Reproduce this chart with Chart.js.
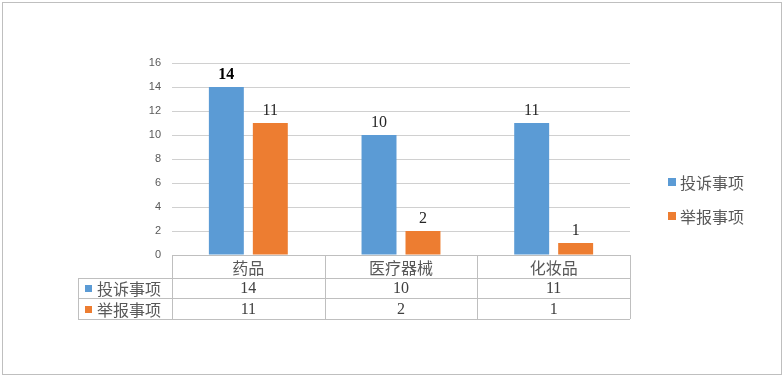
<!DOCTYPE html>
<html lang="zh">
  <head>
    <meta charset="UTF-8" />
    <title>投诉举报事项</title>
    <script src="https://cdn.jsdelivr.net/npm/chart.js"></script>
    <style>
      body {
        margin: 0;
        background-color: #ffffff;
      }
      #frame {
        position: absolute;
        left: 2px;
        top: 2px;
        width: 778px;
        height: 371px;
        border: 1px solid #bfbfbf;
      }
      #wrap {
        position: absolute;
        left: 0;
        top: 0;
        width: 782px;
        height: 380px;
      }
    </style>
  </head>
  <body>
    <div id="frame"></div>
    <div id="wrap"><canvas id="barChart"></canvas></div>
    <script>
      const categories = ["药品", "医疗器械", "化妆品"];
      const complaints = [14, 10, 11];
      const reports = [11, 2, 1];
      const seriesNames = ["投诉事项", "举报事项"];
      const yTicks = [0, 2, 4, 6, 8, 10, 12, 14, 16];

      const cjkFont = "'Noto Sans CJK SC', 'Noto Sans', sans-serif";
      const numFont = "'Liberation Serif', 'DejaVu Serif', serif";
      const gridGray = "#bfbfbf";

      // value labels above bars
      const valueLabels = {
        id: "valueLabels",
        afterDatasetsDraw(chart) {
          const ctx = chart.ctx;
          ctx.save();
          ctx.textAlign = "center";
          ctx.textBaseline = "bottom";
          chart.data.datasets.forEach((ds, di) => {
            const meta = chart.getDatasetMeta(di);
            meta.data.forEach((bar, i) => {
              const bold = di === 0 && i === 0;
              ctx.font = (bold ? "bold " : "") + "16px " + numFont;
              ctx.fillStyle = bold ? "#000000" : "#262626";
              ctx.fillText(ds.data[i], bar.x, bar.y - 4);
            });
          });
          ctx.restore();
        },
      };

      // data table under the plot and legend at the right
      const dataTable = {
        id: "dataTable",
        afterDraw(chart) {
          const ctx = chart.ctx;
          const x = chart.scales.x;
          const area = chart.chartArea;
          const step = (area.right - area.left) / categories.length;
          const top = area.bottom;
          const rowH = [23, 20, 21];
          const rows = [top, top + rowH[0], top + rowH[0] + rowH[1], top + rowH[0] + rowH[1] + rowH[2]];
          const tableLeft = 78;

          ctx.save();
          ctx.strokeStyle = gridGray;
          ctx.lineWidth = 1;
          ctx.beginPath();
          // horizontal lines
          ctx.moveTo(area.left, rows[0] + 0.5);
          ctx.lineTo(area.right, rows[0] + 0.5);
          for (let r = 1; r < rows.length; r++) {
            ctx.moveTo(tableLeft, rows[r] + 0.5);
            ctx.lineTo(area.right, rows[r] + 0.5);
          }
          // vertical lines
          for (let c = 0; c <= categories.length; c++) {
            const px = Math.round(area.left + c * step) + 0.5;
            ctx.moveTo(px, rows[0]);
            ctx.lineTo(px, rows[3]);
          }
          ctx.moveTo(tableLeft + 0.5, rows[1]);
          ctx.lineTo(tableLeft + 0.5, rows[3]);
          ctx.stroke();

          ctx.textAlign = "center";
          ctx.textBaseline = "middle";
          categories.forEach((name, i) => {
            const cx = x.getPixelForValue(i);
            ctx.font = "16px " + cjkFont;
            ctx.fillStyle = "#595959";
            ctx.fillText(name, cx, (rows[0] + rows[1]) / 2 + 1);
            chart.data.datasets.forEach((ds, di) => {
              ctx.font = "16px " + numFont;
              ctx.fillStyle = "#404040";
              ctx.fillText(ds.data[i], cx, (rows[di + 1] + rows[di + 2]) / 2 + 1);
            });
          });

          // row keys
          ctx.textAlign = "left";
          chart.data.datasets.forEach((ds, di) => {
            const cy = (rows[di + 1] + rows[di + 2]) / 2;
            ctx.fillStyle = ds.backgroundColor;
            ctx.fillRect(85, Math.round(cy) - 3, 7, 7);
            ctx.font = "16px " + cjkFont;
            ctx.fillStyle = "#595959";
            ctx.fillText(ds.label, 97, cy + 1);
          });

          // right legend
          const legendY = [182, 216];
          chart.data.datasets.forEach((ds, di) => {
            ctx.fillStyle = ds.backgroundColor;
            ctx.fillRect(668, legendY[di] - 4, 8, 8);
            ctx.font = "16px " + cjkFont;
            ctx.fillStyle = "#595959";
            ctx.fillText(ds.label, 680, legendY[di] + 1);
          });
          ctx.restore();
        },
      };

      new Chart(document.getElementById("barChart"), {
        type: "bar",
        data: {
          labels: categories,
          datasets: [
            {
              label: seriesNames[0],
              data: complaints,
              backgroundColor: "#5B9BD5",
              categoryPercentage: 0.576,
              barPercentage: 0.795,
            },
            {
              label: seriesNames[1],
              data: reports,
              backgroundColor: "#ED7D31",
              categoryPercentage: 0.576,
              barPercentage: 0.795,
            },
          ],
        },
        options: {
          responsive: true,
          maintainAspectRatio: false,
          animation: false,
          layout: {
            padding: { left: 0, top: 63, right: 152, bottom: 125 },
          },
          plugins: {
            legend: { display: false },
            tooltip: { enabled: false },
          },
          scales: {
            x: {
              display: false,
            },
            y: {
              min: 0,
              max: 16,
              afterFit(scale) {
                scale.width = 172;
              },
              afterBuildTicks(scale) {
                scale.ticks = yTicks.map((v) => ({ value: v }));
              },
              border: { display: false },
              grid: {
                color: (c) => (c.tick && c.tick.value === 0 ? "rgba(0,0,0,0)" : "#d0d0d0"),
                drawTicks: false,
              },
              ticks: {
                padding: 11,
                color: "#595959",
                font: { family: "'Liberation Sans', 'DejaVu Sans', sans-serif", size: 11 },
              },
            },
          },
        },
        plugins: [valueLabels, dataTable],
      });
    </script>
  </body>
</html>
